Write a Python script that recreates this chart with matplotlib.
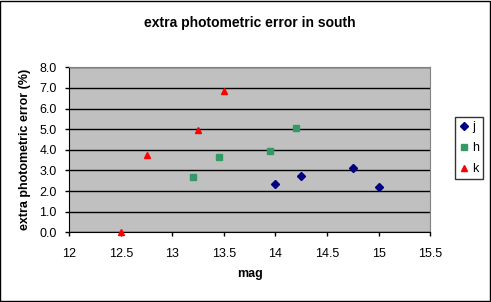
import matplotlib
matplotlib.use('Agg')
import matplotlib.pyplot as plt
from matplotlib.patches import Rectangle

plt.rcParams['font.family'] = ['Liberation Sans', 'DejaVu Sans']

# Data
j_mag = [14.0, 14.25, 14.75, 15.0]
j_err = [2.33, 2.72, 3.1, 2.18]
h_mag = [13.2, 13.45, 13.95, 14.2]
h_err = [2.7, 3.65, 3.96, 5.06]
k_mag = [12.5, 12.75, 13.25, 13.5]
k_err = [0.0, 3.75, 4.97, 6.87]

fig = plt.figure(figsize=(4.91, 3.02), dpi=100)
fig.patches.append(Rectangle((0.001, 0.002), 0.997, 0.995, transform=fig.transFigure,
                             fill=False, edgecolor='black', linewidth=1.0))
ax = fig.add_axes([0.141, 0.231, 0.735, 0.546])
ax.set_facecolor('#C0C0C0')

ax.plot(j_mag, j_err, linestyle='none', marker='D', markersize=3.8, color='#000080', label='j', clip_on=False, zorder=3)
ax.plot(h_mag, h_err, linestyle='none', marker='s', markersize=4.3, color='#339966', label='h', clip_on=False, zorder=3)
ax.plot(k_mag, k_err, linestyle='none', marker='^', markersize=4.8, color='#FF0000', label='k', clip_on=False, zorder=3)

ax.set_xlim(12, 15.5)
ax.set_ylim(0, 8)
ax.set_xticks([12, 12.5, 13, 13.5, 14, 14.5, 15, 15.5])
ax.set_xticklabels(['12', '12.5', '13', '13.5', '14', '14.5', '15', '15.5'])
ax.set_yticks(range(0, 9))
ax.set_yticklabels(['%.1f' % v for v in range(0, 9)])
ax.yaxis.grid(True, color='black', linewidth=1.0)
ax.set_axisbelow(True)
ax.tick_params(direction='out', length=3, width=1, labelsize=9)
ax.tick_params(axis='x', pad=8)
ax.tick_params(axis='y', pad=6)
ax.spines['top'].set_color('#808080')
ax.spines['right'].set_color('#808080')

ax.set_title('extra photometric error in south', fontsize=10, fontweight='bold', pad=29)
ax.set_xlabel('mag', fontsize=9, fontweight='bold', labelpad=6)
ax.set_ylabel('extra photometric error (%)', fontsize=9, fontweight='bold', labelpad=6)

leg = ax.legend(loc='upper left', bbox_to_anchor=(455 / 491, 1 - 117 / 302),
                bbox_transform=fig.transFigure, fontsize=9, frameon=True,
                fancybox=False, edgecolor='black', handlelength=0.7, handletextpad=0.3,
                borderpad=0.35, labelspacing=0.7, borderaxespad=0)
leg.get_frame().set_linewidth(1.0)

fig.savefig('out.png', dpi=100)
